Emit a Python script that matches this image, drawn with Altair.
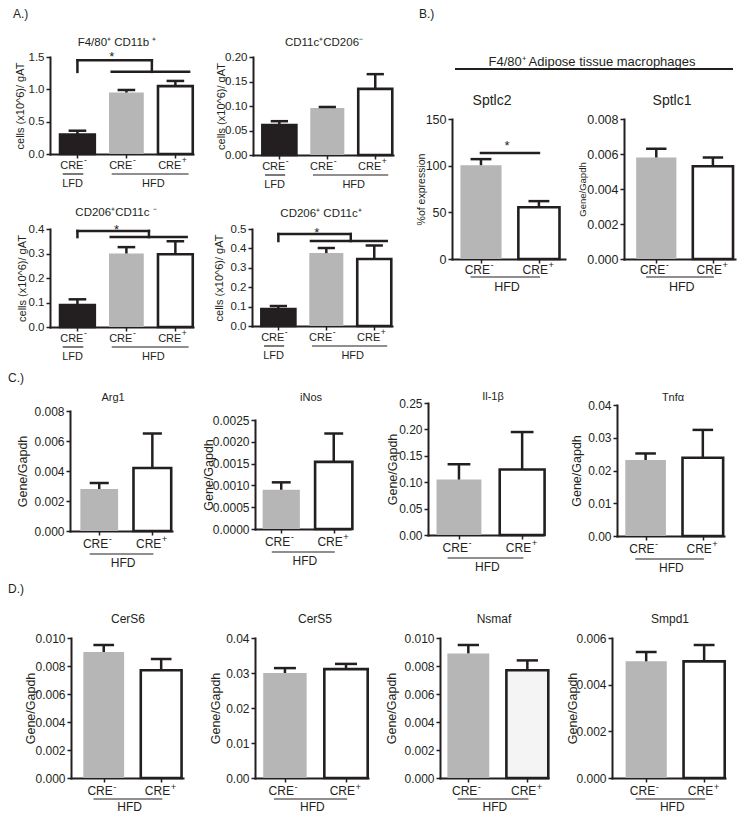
import altair as alt
import pandas as pd

BLACK = "#231f20"
GRAY = "#b6b6b6"
WHITE = "#ffffff"
OFFWHITE = "#f4f4f4"
NONE = "transparent"
FONT = "Liberation Sans"
M = 8            # page margin: canvas (0,0) sits at page (8,8)
CW, CH = 729, 806

# ---------------- data ----------------
cre_base = "CRE"
cre_sign3 = ["-", "-", "+"]
cre_sign2 = ["-", "+"]
groups3 = ["LFD", "HFD"]
groups2 = ["HFD"]
group3_lines = [[-0.30, 0.12], [0.70, 2.27]]
group3_text = [-0.10, 1.55]
group2_lines = [[-0.18, 1.02]]
group2_text = [0.45]

# A.) cells (x10^6)/gAT
a1_mean = [0.30, 0.95, 1.05]
a1_top = [0.36, 0.99, 1.13]
a2_mean = [0.061, 0.096, 0.135]
a2_top = [0.069, 0.098, 0.165]
a3_mean = [0.090, 0.300, 0.297]
a3_top = [0.113, 0.326, 0.350]
a4_mean = [0.088, 0.376, 0.345]
a4_top = [0.103, 0.402, 0.415]

# B.) F4/80+ adipose tissue macrophages
sptlc2_mean = [100.5, 55.5]
sptlc2_top = [107.0, 62.0]
sptlc1_mean = [0.0058, 0.0053]
sptlc1_top = [0.0063, 0.0058]

# C.)
arg1_mean = [0.0028, 0.0042]
arg1_top = [0.0032, 0.0065]
inos_mean = [0.00090, 0.00154]
inos_top = [0.00107, 0.00219]
il1b_mean = [0.105, 0.124]
il1b_top = [0.134, 0.195]
tnfa_mean = [0.0232, 0.0239]
tnfa_top = [0.0252, 0.0324]

# D.)
cers6_mean = [0.0090, 0.0077]
cers6_top = [0.0095, 0.0085]
cers5_mean = [0.0300, 0.0311]
cers5_top = [0.0314, 0.0326]
nsmaf_mean = [0.0089, 0.0077]
nsmaf_top = [0.0095, 0.0084]
smpd1_mean = [0.0050, 0.0050]
smpd1_top = [0.0054, 0.0057]

# significance brackets: segments (x, x2, y, y2) and star (x, y)
a1_sig = [(0, 0, 1.27, 1.45), (0, 1.52, 1.45, 1.45), (1.52, 1.52, 1.45, 1.27), (0.70, 2.28, 1.27, 1.27)]
a1_star = (0.70, 1.55)
a3_sig = [(0, 0, 0.367, 0.392), (0, 1.46, 0.392, 0.392), (1.46, 1.46, 0.392, 0.367), (0.68, 2.23, 0.367, 0.367)]
a3_star = (0.80, 0.41)
a4_sig = [(0, 0, 0.438, 0.474), (0, 1.51, 0.474, 0.474), (1.51, 1.51, 0.474, 0.438), (0.68, 2.26, 0.438, 0.438)]
a4_star = (0.80, 0.497)
sptlc2_sig = [(0, 1.0, 113.6, 113.6)]
sptlc2_star = (0.45, 124.0)

ticks_a1 = [0, 0.5, 1.0, 1.5]
ticks_a2 = [0, 0.05, 0.10, 0.15, 0.20]
ticks_a3 = [0, 0.1, 0.2, 0.3, 0.4]
ticks_a4 = [0, 0.1, 0.2, 0.3, 0.4, 0.5]
ticks_sptlc2 = [0, 50, 100, 150]
ticks_008 = [0, 0.002, 0.004, 0.006, 0.008]
ticks_inos = [0, 0.0005, 0.0010, 0.0015, 0.0020, 0.0025]
ticks_il1b = [0, 0.05, 0.10, 0.15, 0.20, 0.25]
ticks_04 = [0, 0.01, 0.02, 0.03, 0.04]
ticks_010 = [0, 0.002, 0.004, 0.006, 0.008, 0.010]
ticks_006 = [0, 0.002, 0.004, 0.006]

CELLS = "cells (x10^6)/ gAT"
GENE = "Gene/Gapdh"


def text_layer(txt, x, y, size, align="center", baseline="middle"):
    """Annotation text placed in page coordinates."""
    return alt.Chart(pd.DataFrame({"t": [txt]})).mark_text(
        fontSize=size, color=BLACK, align=align, baseline=baseline
    ).encode(x=alt.value(x - M), y=alt.value(y - M), text="t:N")


def panel(title, means, tops, fills, strokes, signs, groups, glines, gtext,
          ylabel, ydom, yticks, yfmt, xdom, box, title_xy, title_size, ytitle_cx,
          fs_tick, fs_xl, fs_yt, fs_g, lab_base, lab_dx, g_off, sig=None, star=None):
    ax, rx, ty, by = box                      # page coords of plot box
    n = len(means)
    df = pd.DataFrame({"idx": list(range(n)), "mean": means, "top": tops,
                       "fill": fills, "stroke": strokes,
                       "lab": [cre_base] * n, "sign": signs})
    xs = alt.Scale(domain=xdom, range=[ax - M, rx - M], nice=False, zero=False)
    ys = alt.Scale(domain=ydom, range=[by - M, ty - M], nice=False, zero=False)
    xaxis = alt.Axis(values=list(range(n)), orient="bottom", labels=False,
                     title=None, offset=(by - M) - CH)
    yaxis = alt.Axis(values=yticks, format=yfmt, title=ylabel, orient="left",
                     titleX=ytitle_cx - ax, titleBaseline="middle", offset=-(ax - M),
                     labelFontSize=fs_tick, titleFontSize=fs_yt, labelPadding=2,
                     labelOverlap=False)

    def X(f):
        return alt.X(f, scale=xs, axis=xaxis)

    def Y(f):
        return alt.Y(f, scale=ys, axis=yaxis)

    bottom = by - M
    base = alt.Chart(df).transform_calculate(
        xlo="datum.idx - 0.355", xhi="datum.idx + 0.355",
        clo="datum.idx - 0.18", chi="datum.idx + 0.18", zero="0")
    bars = base.mark_bar(strokeWidth=2.6).encode(
        x=X("xlo:Q"), x2="xhi:Q", y=Y("mean:Q"), y2="zero:Q",
        fill=alt.Fill("fill:N", scale=None), stroke=alt.Stroke("stroke:N", scale=None))
    ev = base.mark_rule(color=BLACK, strokeWidth=2.5).encode(
        x=X("idx:Q"), y=Y("mean:Q"), y2="top:Q")
    ec = base.mark_rule(color=BLACK, strokeWidth=2.5).encode(
        x=X("clo:Q"), x2="chi:Q", y=Y("top:Q"))
    lab = base.mark_text(fontSize=fs_xl, color=BLACK, align="right", baseline="alphabetic",
                         dx=lab_dx).encode(x=X("idx:Q"), y=alt.value(bottom + lab_base),
                                           text="lab:N")
    sup = base.mark_text(fontSize=fs_xl * 0.78, color=BLACK, align="left",
                         baseline="alphabetic", dx=lab_dx + 0.5, dy=-5.5).encode(
        x=X("idx:Q"), y=alt.value(bottom + lab_base), text="sign:N")
    gdf = pd.DataFrame({"g": groups, "x0": [g[0] for g in glines],
                        "x1": [g[1] for g in glines], "xm": gtext})
    gl = alt.Chart(gdf).mark_rule(color=BLACK, strokeWidth=1.2).encode(
        x=X("x0:Q"), x2="x1:Q", y=alt.value(bottom + g_off[0]))
    gt = alt.Chart(gdf).mark_text(fontSize=fs_g, color=BLACK, baseline="middle").encode(
        x=X("xm:Q"), y=alt.value(bottom + g_off[1]), text="g:N")
    layers = [bars, ev, ec, lab, sup, gl, gt]
    if sig is not None:
        sdf = pd.DataFrame(sig, columns=["sx", "sx2", "sy", "sy2"])
        layers.append(alt.Chart(sdf).mark_rule(color=BLACK, strokeWidth=2.5, strokeCap="square").encode(
            x=X("sx:Q"), x2="sx2:Q", y=Y("sy:Q"), y2="sy2:Q"))
    if star is not None:
        stdf = pd.DataFrame({"x": [star[0]], "y": [star[1]], "t": ["*"]})
        layers.append(alt.Chart(stdf).mark_text(fontSize=13, color=BLACK, baseline="middle", dy=3).encode(
            x=X("x:Q"), y=Y("y:Q"), text="t:N"))
    layers.append(text_layer(title, title_xy[0], title_xy[1], title_size))
    return alt.layer(*layers)


# ---------- A ----------
A_common = dict(fills=[BLACK, GRAY, WHITE], strokes=[BLACK, NONE, BLACK], signs=cre_sign3,
                groups=groups3, glines=group3_lines, gtext=group3_text, ylabel=CELLS,
                fs_tick=11.5, fs_xl=11, fs_yt=11, fs_g=11, lab_base=14.5, lab_dx=6,
                g_off=(20, 30), title_size=11.5)
A1 = panel("F4/80⁺ CD11b ⁺", a1_mean, a1_top, ydom=[0, 1.5], yticks=ticks_a1, yfmt=".1f",
           xdom=[-0.56, 2.36], box=(50, 193, 56, 153), title_xy=(117, 42),
           ytitle_cx=20, sig=a1_sig, star=a1_star, **A_common)
A2 = panel("CD11c⁺CD206⁻", a2_mean, a2_top, ydom=[0, 0.2], yticks=ticks_a2, yfmt=".2f",
           xdom=[-0.55, 2.37], box=(253, 393, 56, 154), title_xy=(324, 42),
           ytitle_cx=221, **A_common)
A3 = panel("CD206⁺CD11c ⁻", a3_mean, a3_top, ydom=[0, 0.4], yticks=ticks_a3, yfmt=".1f",
           xdom=[-0.56, 2.36], box=(50, 193, 228, 326), title_xy=(116, 212),
           ytitle_cx=22, sig=a3_sig, star=a3_star, **A_common)
A4 = panel("CD206⁺ CD11c⁺", a4_mean, a4_top, ydom=[0, 0.5], yticks=ticks_a4, yfmt=".1f",
           xdom=[-0.55, 2.37], box=(252, 392, 228, 325), title_xy=(321, 213),
           ytitle_cx=219, sig=a4_sig, star=a4_star, **A_common)

# ---------- B ----------
B_common = dict(fills=[GRAY, WHITE], strokes=[NONE, BLACK], signs=cre_sign2, groups=groups2,
                glines=group2_lines, gtext=group2_text, fs_tick=12.5, fs_xl=12, fs_yt=10.5,
                fs_g=12.5, lab_base=14.5, lab_dx=9, g_off=(18, 28), title_size=14)
S2 = panel("Sptlc2", sptlc2_mean, sptlc2_top, ylabel="%of expression", ydom=[0, 150],
           yticks=ticks_sptlc2, yfmt="d", xdom=[-0.5, 1.45], box=(452, 565, 118, 258),
           title_xy=(492, 100), ytitle_cx=421, sig=sptlc2_sig, star=sptlc2_star, **B_common)
S1 = panel("Sptlc1", sptlc1_mean, sptlc1_top, ylabel=GENE, ydom=[0, 0.008],
           yticks=ticks_008, yfmt=".3f", xdom=[-0.57, 1.39], box=(624, 735, 118, 258),
           title_xy=(672, 100), ytitle_cx=582, **dict(B_common, fs_yt=9.5))

# ---------- C ----------
C_common = dict(fills=[GRAY, WHITE], strokes=[NONE, BLACK], signs=cre_sign2, groups=groups2,
                glines=group2_lines, gtext=group2_text, ylabel=GENE, fs_tick=12, fs_xl=12,
                fs_yt=12.5, fs_g=12, lab_base=16.5, lab_dx=9, g_off=(23, 32), title_size=11)
C1 = panel("Arg1", arg1_mean, arg1_top, ydom=[0, 0.008], yticks=ticks_008, yfmt=".3f",
           xdom=[-0.55, 1.37], box=(70, 172, 410, 530), title_xy=(113, 397),
           ytitle_cx=22.5, **C_common)
C2 = panel("iNos", inos_mean, inos_top, ydom=[0, 0.0025], yticks=ticks_inos, yfmt=".4f",
           xdom=[-0.5, 1.31], box=(255, 350, 419, 528), title_xy=(311, 397),
           ytitle_cx=208, **C_common)
C3 = panel("Il-1β", il1b_mean, il1b_top, ydom=[0, 0.25], yticks=ticks_il1b, yfmt=".2f",
           xdom=[-0.49, 1.33], box=(428, 543, 402, 534), title_xy=(493, 396),
           ytitle_cx=392, **C_common)
C4 = panel("Tnfα", tnfa_mean, tnfa_top, ydom=[0, 0.04], yticks=ticks_04, yfmt=".2f",
           xdom=[-0.5, 1.37], box=(617, 724, 404, 535), title_xy=(673, 397),
           ytitle_cx=576, **C_common)

# ---------- D ----------
D_common = dict(strokes=[NONE, BLACK], signs=cre_sign2, groups=groups2,
                glines=group2_lines, gtext=group2_text, ylabel=GENE, fs_tick=12, fs_xl=12,
                fs_yt=12.5, fs_g=12, lab_base=17, lab_dx=9, g_off=(21, 29), title_size=12)
D1 = panel("CerS6", cers6_mean, cers6_top, fills=[GRAY, WHITE], ydom=[0, 0.010],
           yticks=ticks_010, yfmt=".3f", xdom=[-0.57, 1.38], box=(71, 183, 637, 777),
           title_xy=(128, 618), ytitle_cx=30, **D_common)
D2 = panel("CerS5", cers5_mean, cers5_top, fills=[GRAY, WHITE], ydom=[0, 0.04],
           yticks=ticks_04, yfmt=".2f", xdom=[-0.49, 1.36], box=(255, 368, 637, 777),
           title_xy=(315, 618), ytitle_cx=215, **D_common)
D3 = panel("Nsmaf", nsmaf_mean, nsmaf_top, fills=[GRAY, OFFWHITE], ydom=[0, 0.010],
           yticks=ticks_010, yfmt=".3f", xdom=[-0.48, 1.35], box=(440, 548, 637, 777),
           title_xy=(494, 618), ytitle_cx=391.5, **D_common)
D4 = panel("Smpd1", smpd1_mean, smpd1_top, fills=[GRAY, WHITE], ydom=[0, 0.006],
           yticks=ticks_006, yfmt=".3f", xdom=[-0.59, 1.36], box=(612, 725, 637, 777),
           title_xy=(670, 618), ytitle_cx=572, **D_common)

# ---------- figure-level annotations ----------
header_rule = alt.Chart(pd.DataFrame({"t": ["header"]})).mark_rule(
    color=BLACK, strokeWidth=2).encode(x=alt.value(455 - M), x2=alt.value(733 - M),
                                        y=alt.value(68 - M))
annotations = [
    header_rule,
    text_layer("F4/80⁺ Adipose tissue macrophages", 592, 65, 13, baseline="alphabetic"),
    text_layer("A.)", 13, 8, 12, align="left", baseline="top"),
    text_layer("B.)", 419, 8, 12, align="left", baseline="top"),
    text_layer("C.)", 8, 372, 12, align="left", baseline="top"),
    text_layer("D.)", 8, 583, 12, align="left", baseline="top"),
]

chart = alt.layer(
    A1, A2, A3, A4, S2, S1, C1, C2, C3, C4, D1, D2, D3, D4, *annotations
).resolve_scale(x="independent", y="independent").resolve_axis(
    x="independent", y="independent"
).properties(
    width=CW, height=CH, padding={"left": 0, "top": 0, "right": 0, "bottom": 0}
).configure(font=FONT).configure_view(stroke=NONE).configure_axis(
    domainColor=BLACK, domainWidth=2, tickColor=BLACK, tickWidth=1.5, tickSize=4,
    labelColor=BLACK, titleColor=BLACK, titleFontWeight="normal", grid=False,
    labelFont=FONT, titleFont=FONT, domainCap="square")

chart.save("out.html", embed_options={"renderer": "svg", "actions": False})
